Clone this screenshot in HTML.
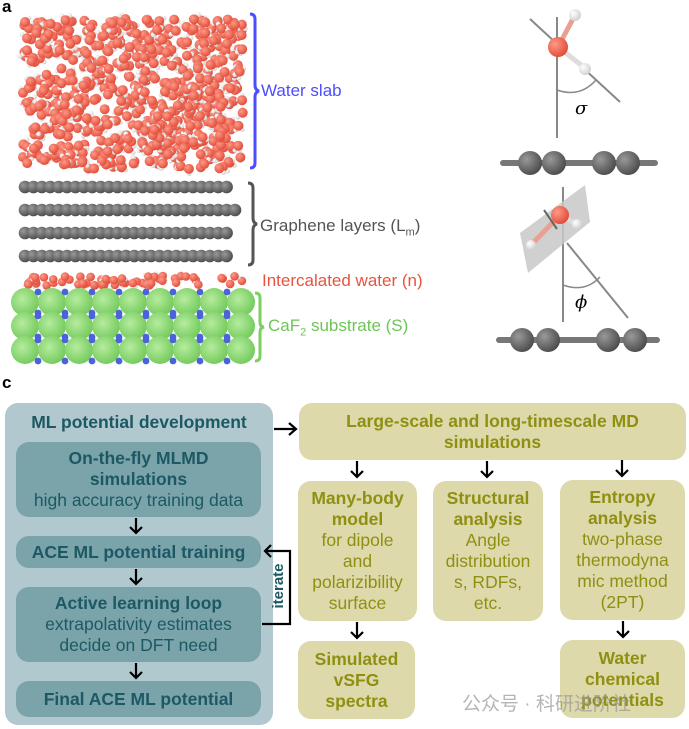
<!DOCTYPE html>
<html><head><meta charset="utf-8"><style>
html,body{margin:0;padding:0;background:#fff;}
body{width:689px;height:729px;position:relative;overflow:hidden;font-family:"Liberation Sans",Arial,sans-serif;}
.b{position:absolute;border-radius:13px;box-sizing:border-box;display:flex;flex-direction:column;justify-content:center;align-items:center;text-align:center;font-size:17.5px;line-height:21px;white-space:nowrap;}
.t{background:#7ba3aa;color:#1c5964;}
.y{background:#ddd9aa;color:#8f8f12;}
.bd{font-weight:bold;}
.lbl{position:absolute;font-size:17px;white-space:nowrap;}
svg{z-index:2;}
</style></head><body>
<div style="position:absolute;left:2px;top:-3px;font-size:17px;font-weight:bold">a</div>
<div style="position:absolute;left:2px;top:373px;font-size:17px;font-weight:bold">c</div>
<div class="lbl" style="left:261px;top:81px;color:#4d4dff">Water slab</div>
<div class="lbl" style="left:260px;top:216px;color:#555">Graphene layers (L<sub style="font-size:11px">m</sub>)</div>
<div class="lbl" style="left:262px;top:271px;color:#e8533f">Intercalated water (n)</div>
<div class="lbl" style="left:268px;top:316px;color:#6cc655">CaF<sub style="font-size:11px">2</sub> substrate (S)</div>

<div class="b" style="left:5px;top:403px;width:268px;height:322px;background:#b1c8ce;"></div>
<div class="lbl bd" style="left:5px;top:412px;width:268px;text-align:center;font-size:17.5px;color:#1c5964">ML potential development</div>
<div class="b t" style="left:16px;top:442px;width:245px;height:75px"><span class="bd">On-the-fly MLMD<br>simulations</span>high accuracy training data</div>
<div class="b t bd" style="left:16px;top:536px;width:245px;height:32px">ACE ML potential training</div>
<div class="b t" style="left:16px;top:587px;width:245px;height:75px"><span class="bd">Active learning loop</span>extrapolativity estimates<br>decide on DFT need</div>
<div class="b t bd" style="left:16px;top:681px;width:245px;height:36px">Final ACE ML potential</div>

<div class="b y bd" style="left:299px;top:403px;width:387px;height:57px">Large-scale and long-timescale MD<br>simulations</div>
<div class="b y" style="left:298px;top:481px;width:119px;height:140px"><span class="bd">Many-body<br>model</span>for dipole<br>and<br>polarizibility<br>surface</div>
<div class="b y" style="left:433px;top:481px;width:110px;height:140px"><span class="bd">Structural<br>analysis</span>Angle<br>distribution<br>s, RDFs,<br>etc.</div>
<div class="b y" style="left:560px;top:480px;width:125px;height:140px"><span class="bd">Entropy<br>analysis</span>two-phase<br>thermodyna<br>mic method<br>(2PT)</div>
<div class="b y bd" style="left:298px;top:641px;width:117px;height:78px">Simulated<br>vSFG<br>spectra</div>
<div class="b y bd" style="left:560px;top:640px;width:125px;height:78px">Water<br>chemical<br>potentials</div>
<div class="lbl" style="left:462px;top:689px;font-size:19px;color:rgba(150,150,150,0.7);font-family:'Liberation Sans','Noto Sans CJK SC',sans-serif">公众号 · 科研进阶社</div>

<svg id="s" width="689" height="729" style="position:absolute;left:0;top:0">
<defs>
<radialGradient id="gO" cx="0.35" cy="0.35" r="0.7"><stop offset="0" stop-color="#ff9a88"/><stop offset="1" stop-color="#e04a38"/></radialGradient>
<radialGradient id="gC" cx="0.35" cy="0.35" r="0.7"><stop offset="0" stop-color="#999"/><stop offset="1" stop-color="#4a4a4a"/></radialGradient>
<radialGradient id="gG" cx="0.4" cy="0.4" r="0.7"><stop offset="0" stop-color="#b6ec9e"/><stop offset="1" stop-color="#6cc655"/></radialGradient>
<radialGradient id="gH" cx="0.35" cy="0.35" r="0.7"><stop offset="0" stop-color="#fff"/><stop offset="1" stop-color="#cfcfcf"/></radialGradient>
</defs>
<g id="atoms"></g>
<path d="M250 14 q5 0 5 5 v66 q0 5 4 6 q-4 1 -4 6 v66 q0 5 -5 5" fill="none" stroke="#4d4dff" stroke-width="3"/>
<path d="M248 183 q5 0 5 5 v30 q0 5 4 6 q-4 1 -4 6 v30 q0 5 -5 5" fill="none" stroke="#555" stroke-width="3"/>
<path d="M255 293 q5 0 5 5 v24 q0 5 4 5 q-4 1 -4 5 v24 q0 5 -5 5" fill="none" stroke="#7ccf62" stroke-width="3"/>
<line x1="557" y1="17" x2="557" y2="138" stroke="#888" stroke-width="2"/>
<line x1="530" y1="19" x2="620" y2="102" stroke="#888" stroke-width="2"/>
<path d="M557 90 Q580 98 596 80" fill="none" stroke="#888" stroke-width="1.5"/>
<line x1="558" y1="47" x2="575" y2="15" stroke="#e8a090" stroke-width="5"/>
<line x1="558" y1="47" x2="585" y2="68" stroke="#ddd" stroke-width="5"/>
<circle cx="575" cy="15" r="6" fill="url(#gH)"/>
<circle cx="585" cy="69" r="6" fill="url(#gH)"/>
<circle cx="558" cy="47" r="10" fill="url(#gO)"/>
<text x="575" y="114" font-size="18" font-style="italic" font-family="DejaVu Serif,serif">σ</text>
<rect x="500" y="160" width="158" height="6" rx="3" fill="#777"/>
<circle cx="530" cy="163" r="12" fill="url(#gC)"/><circle cx="554" cy="163" r="12" fill="url(#gC)"/>
<circle cx="604" cy="163" r="12" fill="url(#gC)"/><circle cx="628" cy="163" r="12" fill="url(#gC)"/>
<line x1="563" y1="187" x2="563" y2="322" stroke="#888" stroke-width="2"/>
<polygon points="520,233 585,185 590,222 528,273" fill="#c8c8c8" opacity="0.85"/>
<line x1="567" y1="243" x2="628" y2="318" stroke="#888" stroke-width="2"/>
<path d="M563 285 Q585 293 600 277" fill="none" stroke="#888" stroke-width="1.5"/>
<line x1="560" y1="215" x2="531" y2="245" stroke="#e8a090" stroke-width="5"/>
<line x1="560" y1="215" x2="576" y2="224" stroke="#ddd" stroke-width="5"/>
<circle cx="531" cy="245" r="5" fill="url(#gH)"/><circle cx="577" cy="224" r="5" fill="url(#gH)"/>
<circle cx="560" cy="215" r="9" fill="url(#gO)"/>
<line x1="544" y1="210" x2="557" y2="229" stroke="#666" stroke-width="2"/>
<text x="575" y="308" font-size="18" font-style="italic" font-family="DejaVu Serif,serif">ϕ</text>
<rect x="496" y="337" width="164" height="6" rx="3" fill="#777"/>
<circle cx="522" cy="340" r="12" fill="url(#gC)"/><circle cx="548" cy="340" r="12" fill="url(#gC)"/>
<circle cx="608" cy="340" r="12" fill="url(#gC)"/><circle cx="635" cy="340" r="12" fill="url(#gC)"/>
<g stroke="#000" stroke-width="2.2" fill="none">
<path d="M274 429 H296 M289 423 l7 6 -7 6"/>
<path d="M136 518 V533 M130 527 l6 6 6-6"/>
<path d="M136 569 V584 M130 578 l6 6 6-6"/>
<path d="M136 663 V678 M130 672 l6 6 6-6"/>
<path d="M262 624 H290 V551 H265 M271 545 l-6 6 6 6"/>
<path d="M357 461 V477 M351 471 l6 6 6-6"/>
<path d="M487 461 V477 M481 471 l6 6 6-6"/>
<path d="M622 460 V476 M616 470 l6 6 6-6"/>
<path d="M357 622 V638 M351 632 l6 6 6-6"/>
<path d="M623 621 V637 M617 631 l6 6 6-6"/>
</g>
<text transform="translate(283,586) rotate(-90)" text-anchor="middle" font-size="15" font-weight="bold" fill="#1c5964">iterate</text>
</svg>

<script>
var g=document.getElementById('atoms'),ns='http://www.w3.org/2000/svg',seed=7;
function r(){seed=(seed*16807)%2147483647;return seed/2147483647;}
function c(x,y,rad,f){var e=document.createElementNS(ns,'circle');e.setAttribute('cx',x);e.setAttribute('cy',y);e.setAttribute('r',rad);e.setAttribute('fill',f);g.appendChild(e);}
for(var i=0;i<650;i++){var x=23+r()*220,y=19+r()*150;c(x+(r()-.5)*10,y+(r()-.5)*10,2.4,'url(#gH)');c(x+(r()-.5)*10,y+(r()-.5)*10,2.4,'url(#gH)');c(x,y,5,'url(#gO)');}
for(var i=0;i<60;i++){var x=28+r()*215,y=276+r()*10;c(x+(r()-.5)*8,y+(r()-.5)*7,2,'url(#gH)');c(x,y,4.3,'url(#gO)');}
[187,210,233,256].forEach(function(y,k){for(var x=25;x<=(k==1?240:232);x+=8.4)c(x,y,6.3,'url(#gC)');});
[302,326,350].forEach(function(y,k){for(var x=25;x<=250;x+=27)c(x,y,14,'url(#gG)');for(var x=38;x<=245;x+=27){c(x,y-10,3.4,'#4a63d8');c(x,y+11,3.4,'#4a63d8');}});
</script>
</body></html>
